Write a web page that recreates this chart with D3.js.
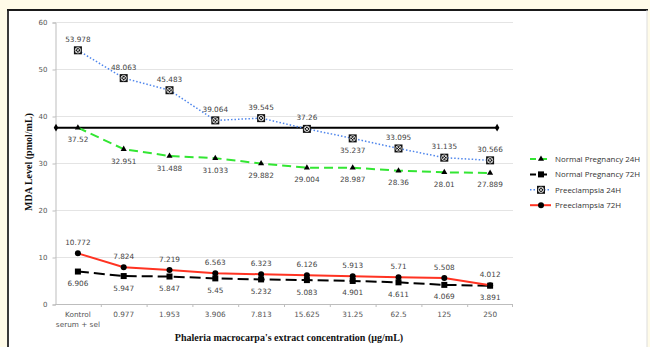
<!DOCTYPE html>
<html>
<head>
<meta charset="utf-8">
<script src="https://cdn.jsdelivr.net/npm/d3@7"></script>
<style>
  html, body { margin: 0; padding: 0; background: #fffbe8; }
  svg { display: block; }
</style>
</head>
<body>
<div id="chart"></div>
<script>
// categories on the x axis
var categories = ["Kontrol\nserum + sel", "0.977", "1.953", "3.906", "7.813", "15.625", "31.25", "62.5", "125", "250"];

// series values (MDA level, pmol/mL)
var normal24 = [37.52, 32.951, 31.488, 31.033, 29.882, 29.004, 28.987, 28.36, 28.01, 27.889];
var normal72 = [6.906, 5.947, 5.847, 5.45, 5.232, 5.083, 4.901, 4.611, 4.069, 3.891];
var pre24 = [53.978, 48.063, 45.483, 39.064, 39.545, 37.26, 35.237, 33.095, 31.135, 30.566];
var pre72 = [10.772, 7.824, 7.219, 6.563, 6.323, 6.126, 5.913, 5.71, 5.508, 4.012];

// horizontal control level line
var controlLevel = 37.52;

var yTicks = [0, 10, 20, 30, 40, 50, 60];
var seriesNames = ["Normal Pregnancy 24H", "Normal Pregnancy 72H", "Preeclampsia 24H", "Preeclampsia 72H"];

var width = 650, height = 347;
var plotLeft = 55, plotRight = 513, plotTop = 22, plotBottom = 304;

var svg = d3.select("#chart").append("svg")
    .attr("width", width)
    .attr("height", height);

// white frame
svg.append("rect")
    .attr("x", 8).attr("y", 10)
    .attr("width", 639).attr("height", 345)
    .attr("fill", "#ffffff");
svg.append("line").attr("x1", 8).attr("x2", 8).attr("y1", 10).attr("y2", 347)
    .attr("stroke", "#3a3a3a").attr("stroke-width", 2);
svg.append("line").attr("x1", 7).attr("x2", 648).attr("y1", 10).attr("y2", 10)
    .attr("stroke", "#1a1a1a").attr("stroke-width", 2);
svg.append("line").attr("x1", 647).attr("x2", 647).attr("y1", 10).attr("y2", 347)
    .attr("stroke", "#dddddd").attr("stroke-width", 1);

var x = d3.scalePoint().domain(categories).range([plotLeft, plotRight]).padding(0.5);
var band = d3.scaleBand().domain(categories).range([plotLeft, plotRight]);
var y = d3.scaleLinear().domain([0, 60]).range([plotBottom, plotTop]);

// gridlines
svg.append("g").selectAll("line")
    .data(yTicks.filter(function (d) { return d > 0; }))
    .enter().append("line")
    .attr("x1", plotLeft).attr("x2", plotRight)
    .attr("y1", function (d) { return y(d) + 0.5; })
    .attr("y2", function (d) { return y(d) + 0.5; })
    .attr("stroke", "#e4e4e4").attr("stroke-width", 1);

// y axis
var yAxis = svg.append("g")
    .attr("transform", "translate(" + (plotLeft + 0.5) + ",0.5)")
    .call(d3.axisLeft(y).tickValues(yTicks).tickSize(3).tickPadding(5));
yAxis.select(".domain").attr("stroke", "#bdbdbd");
yAxis.selectAll(".tick line").attr("stroke", "#bdbdbd");
yAxis.selectAll(".tick text")
    .attr("font-family", "DejaVu Sans").attr("font-size", "7px").attr("fill", "#555");

// x axis line and ticks at category boundaries
svg.append("line")
    .attr("x1", plotLeft).attr("x2", plotRight)
    .attr("y1", plotBottom + 0.5).attr("y2", plotBottom + 0.5)
    .attr("stroke", "#bdbdbd");
svg.append("g").selectAll("line")
    .data(categories.slice(1).concat(["__end"]))
    .enter().append("line")
    .attr("x1", function (d) { return d === "__end" ? plotRight - 0.5 : band(d) + 0.5; })
    .attr("x2", function (d) { return d === "__end" ? plotRight - 0.5 : band(d) + 0.5; })
    .attr("y1", plotBottom).attr("y2", plotBottom + 3)
    .attr("stroke", "#bdbdbd");

var xLabels = svg.append("g").selectAll("text")
    .data(categories)
    .enter().append("text")
    .attr("text-anchor", "middle")
    .attr("font-family", "DejaVu Sans").attr("font-size", "7.3px").attr("fill", "#555");
xLabels.each(function (d) {
    var parts = d.split("\n");
    var t = d3.select(this);
    parts.forEach(function (p, i) {
        t.append("tspan")
            .attr("x", x(d))
            .attr("y", 317 + i * 10)
            .text(p);
    });
});

// axis titles
svg.append("text")
    .attr("x", 289).attr("y", 341)
    .attr("text-anchor", "middle")
    .attr("font-family", "Liberation Serif").attr("font-weight", "bold")
    .attr("font-size", "10px").attr("fill", "#111")
    .text("Phaleria macrocarpa's extract concentration (\u00b5g/mL)");
svg.append("text")
    .attr("transform", "translate(32,162) rotate(-90)")
    .attr("text-anchor", "middle")
    .attr("font-family", "Liberation Serif").attr("font-weight", "bold")
    .attr("font-size", "10px").attr("fill", "#111")
    .text("MDA Level  (pmol/mL)");

// control line
svg.append("line")
    .attr("x1", plotLeft + 1).attr("x2", x("250") + 7)
    .attr("y1", y(controlLevel)).attr("y2", y(controlLevel))
    .attr("stroke", "#000").attr("stroke-width", 2);
svg.append("g").selectAll("path")
    .data([plotLeft + 1, x("250") + 7])
    .enter().append("path")
    .attr("d", d3.symbol().type(d3.symbolDiamond).size(18))
    .attr("transform", function (d) { return "translate(" + d + "," + y(controlLevel) + ")"; })
    .attr("fill", "#000");

var line = d3.line()
    .x(function (d, i) { return x(categories[i]); })
    .y(function (d) { return y(d); });

function drawMarker(g, kind) {
    if (kind === "triangle") {
        g.append("path").attr("d", d3.symbol().type(d3.symbolTriangle).size(16)).attr("fill", "#000");
    } else if (kind === "square") {
        g.append("rect").attr("x", -3).attr("y", -3).attr("width", 6).attr("height", 6).attr("fill", "#000");
    } else if (kind === "circle") {
        g.append("circle").attr("r", 3).attr("fill", "#000");
    } else {
        g.append("rect").attr("x", -4).attr("y", -4).attr("width", 8).attr("height", 8).attr("fill", "#111");
        g.append("circle").attr("r", 2.7).attr("fill", "none").attr("stroke", "#fff").attr("stroke-width", 0.8);
        g.append("path").attr("d", "M-2,-2L2,2M-2,2L2,-2").attr("stroke", "#fff").attr("stroke-width", 0.8);
    }
}

var series = [
    {name: seriesNames[0], values: normal24, color: "#33e633", dash: "9,5", width: 2, marker: "triangle", below: true},
    {name: seriesNames[1], values: normal72, color: "#000000", dash: "11,5", width: 2, marker: "square", below: true},
    {name: seriesNames[2], values: pre24, color: "#4f86ec", dash: "1.5,2", width: 1.5, marker: "xcircle", below: false},
    {name: seriesNames[3], values: pre72, color: "#ff3322", dash: null, width: 2, marker: "circle", below: false}
];

series.forEach(function (s) {
    svg.append("path")
        .attr("d", line(s.values))
        .attr("fill", "none")
        .attr("stroke", s.color)
        .attr("stroke-width", s.width)
        .attr("stroke-dasharray", s.dash);

    svg.append("g").selectAll("g")
        .data(s.values)
        .enter().append("g")
        .attr("transform", function (d, i) { return "translate(" + x(categories[i]) + "," + y(d) + ")"; })
        .each(function () { drawMarker(d3.select(this), s.marker); });

    svg.append("g").selectAll("text")
        .data(s.values)
        .enter().append("text")
        .attr("x", function (d, i) { return x(categories[i]); })
        .attr("y", function (d, i) {
            var below = s.below;
            if (s.name === "Preeclampsia 24H" && d === 35.237) below = true;
            return below ? y(d) + 14.5 : y(d) - 8.5;
        })
        .attr("text-anchor", "middle")
        .attr("font-family", "DejaVu Sans").attr("font-size", "7.3px").attr("fill", "#444")
        .text(function (d) { return d; });
});

// legend
var legend = svg.append("g").selectAll("g")
    .data(series)
    .enter().append("g")
    .attr("transform", function (d, i) { return "translate(530," + (159 + i * 15.4) + ")"; });
legend.append("line")
    .attr("x1", 0).attr("x2", 21).attr("y1", 0).attr("y2", 0)
    .attr("stroke", function (d) { return d.color; })
    .attr("stroke-width", function (d) { return d.width; })
    .attr("stroke-dasharray", function (d) { return d.dash ? (d.marker === "xcircle" ? "1.5,2" : "6,5") : null; });
legend.append("g")
    .attr("transform", "translate(11,0)")
    .each(function (d) { drawMarker(d3.select(this), d.marker); });
legend.append("text")
    .attr("x", 25).attr("y", 3)
    .attr("font-family", "Open Sans").attr("font-size", "7.9px").attr("fill", "#333")
    .text(function (d) { return d.name; });
</script>
</body>
</html>
